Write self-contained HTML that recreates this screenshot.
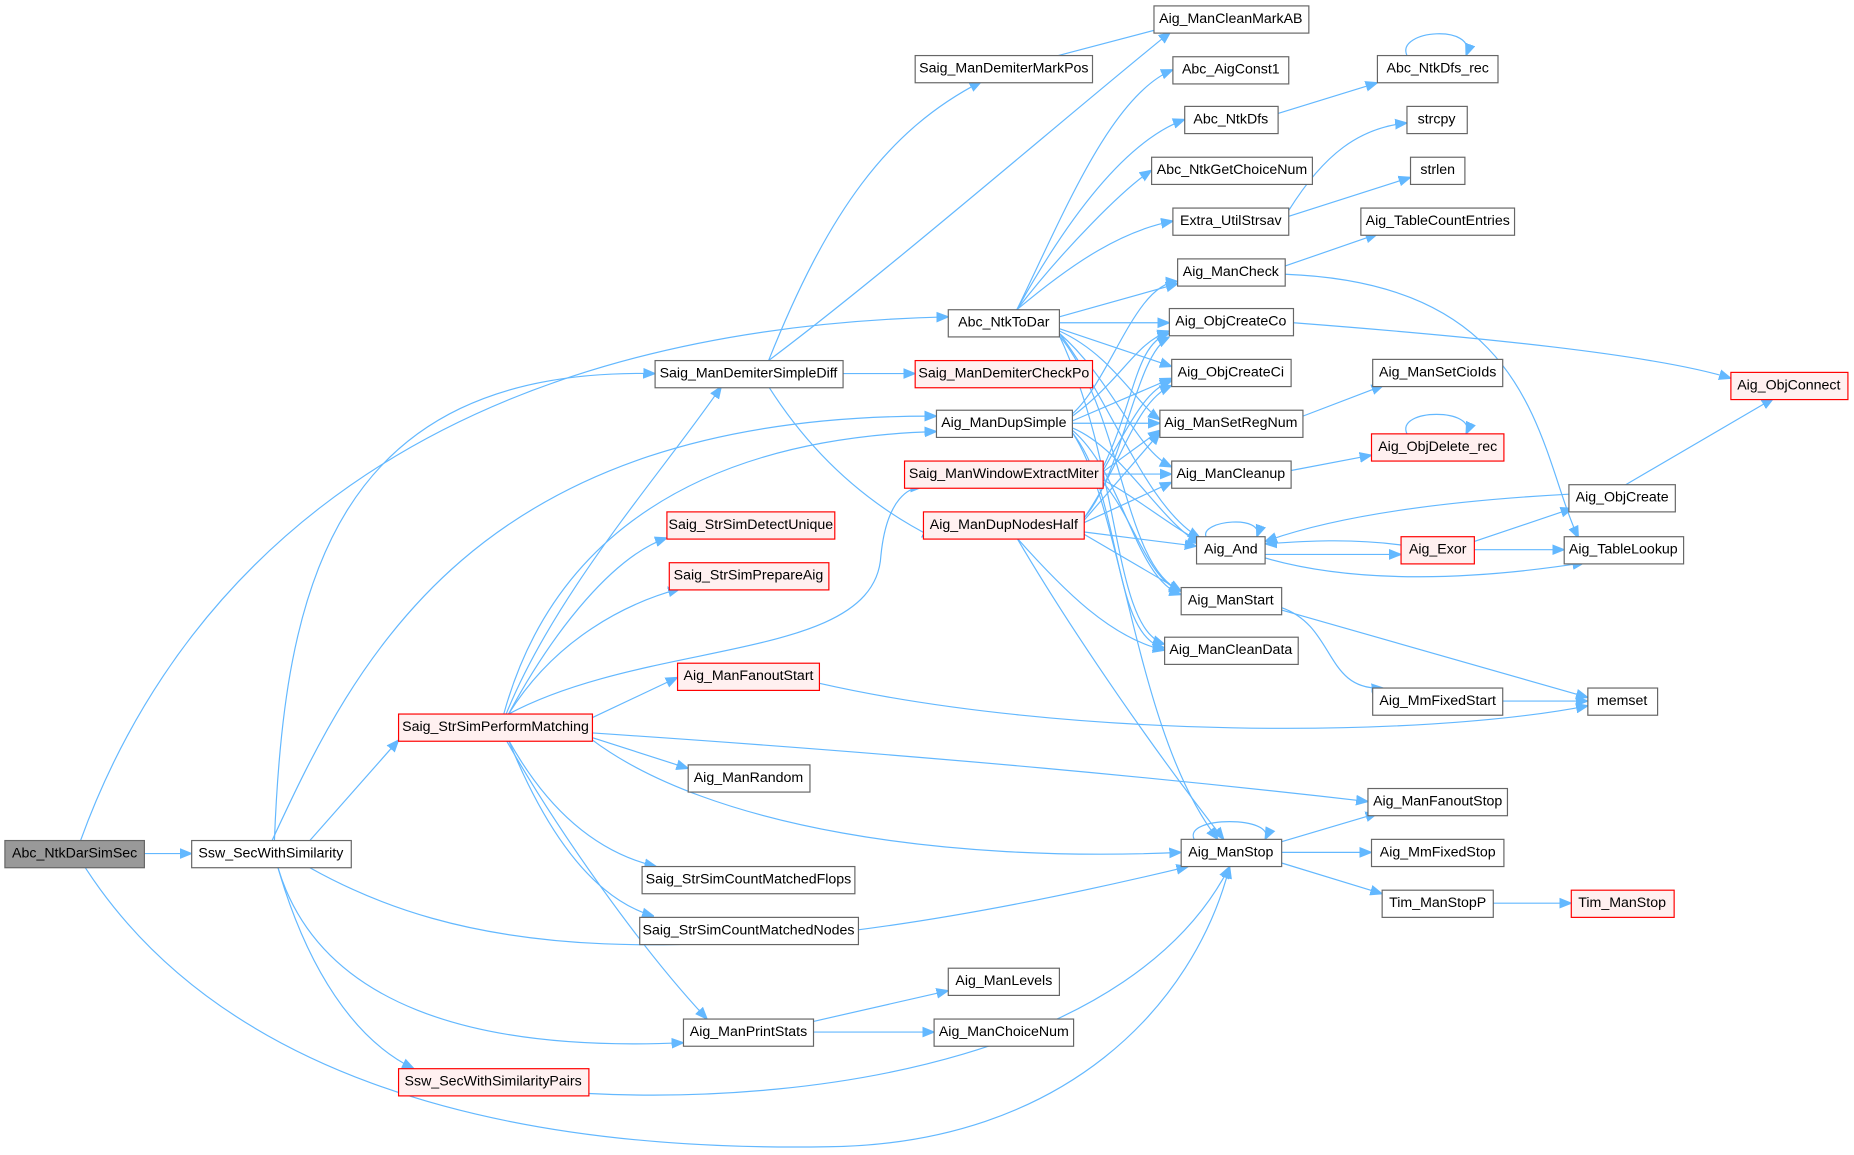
<!DOCTYPE html>
<html><head><meta charset="utf-8"><style>
html,body{margin:0;padding:0;background:#fff}
svg{display:block}
text{font-family:"Liberation Sans",Arial,sans-serif;font-size:12px;fill:#000;text-anchor:middle;dominant-baseline:central}
.n{fill:#fff;stroke:#666;stroke-width:1}
.r{fill:#fff0f0;stroke:#ff0000;stroke-width:1}
.g{fill:#999;stroke:#666;stroke-width:1}
path{fill:none;stroke:#63b8ff;stroke-width:1}
</style></head><body>
<svg width="1854" height="1155" viewBox="0 0 1568 977" xmlns="http://www.w3.org/2000/svg">
<defs><marker id="a" viewBox="0 0 10 10" refX="10" refY="5" markerWidth="10" markerHeight="10" markerUnits="userSpaceOnUse" orient="auto"><path d="M0,1 L10,5 L0,9 z" style="fill:#63b8ff;stroke:#63b8ff"/></marker></defs>
<g marker-end="url(#a)">
<path d="M122,722 L162,722"/>
<path d="M68,711 C130,540 300,280 802,268"/>
<path d="M72,734 C180,900 400,975 700,970 C900,968 1010,850 1040,733"/>
<path d="M232,711 C240,500 280,310 554,316"/>
<path d="M230,711 C300,560 400,350 792,352"/>
<path d="M262,711 L337,626"/>
<path d="M262,734 C380,800 560,840 1005,733"/>
<path d="M235,734 C270,850 400,890 578,882"/>
<path d="M235,734 C260,820 300,880 350,904"/>
<path d="M498,925 C700,935 960,890 1040,733"/>
<path d="M428,604 C470,500 560,400 610,327"/>
<path d="M426,604 C460,480 560,372 792,365"/>
<path d="M430,604 C550,540 740,560 745,470 C750,420 770,412 780,412"/>
<path d="M430,604 C470,530 520,470 564,455"/>
<path d="M430,604 C470,540 530,510 575,498"/>
<path d="M501,607 L573,573"/>
<path d="M501,624 L582,650"/>
<path d="M430,626 C460,680 500,720 555,733"/>
<path d="M430,626 C460,700 500,760 553,775"/>
<path d="M428,626 C470,700 540,800 598,862"/>
<path d="M501,626 C600,700 800,730 999,721"/>
<path d="M501,620 C800,640 1000,660 1157,678"/>
<path d="M650,305 C700,180 750,110 830,69"/>
<path d="M650,305 C750,230 900,100 990,27"/>
<path d="M713,316 L774,316"/>
<path d="M650,327 C690,390 740,430 790,455"/>
<path d="M895,47 L990,22"/>
<path d="M860,262 C900,180 940,80 992,59"/>
<path d="M860,262 C900,190 950,120 1002,101"/>
<path d="M860,262 C900,210 950,160 974,144"/>
<path d="M860,262 C910,220 950,195 992,187"/>
<path d="M896,268 L996,240"/>
<path d="M896,273 L989,273"/>
<path d="M896,278 L991,310"/>
<path d="M896,280 C940,300 960,340 981,355"/>
<path d="M896,282 C940,320 960,380 991,395"/>
<path d="M896,282 C940,340 970,430 1015,455"/>
<path d="M896,284 C950,350 950,480 999,500"/>
<path d="M896,284 C950,400 940,530 985,545"/>
<path d="M907,350 C940,320 960,240 996,238"/>
<path d="M907,352 C950,320 960,290 989,280"/>
<path d="M907,356 L991,320"/>
<path d="M907,358 L981,358"/>
<path d="M907,362 C950,380 980,440 1015,460"/>
<path d="M907,364 C950,400 960,490 999,503"/>
<path d="M907,366 C950,420 940,540 985,548"/>
<path d="M907,366 C950,430 960,620 1030,710"/>
<path d="M933,395 C960,340 960,290 989,282"/>
<path d="M933,398 C960,350 970,330 991,322"/>
<path d="M933,399 L981,364"/>
<path d="M933,401 L991,401"/>
<path d="M933,406 C960,420 990,445 1015,458"/>
<path d="M933,408 C960,440 970,490 999,500"/>
<path d="M917,438 C950,400 960,300 989,285"/>
<path d="M917,438 C950,390 960,340 991,326"/>
<path d="M917,440 L981,366"/>
<path d="M917,442 L991,408"/>
<path d="M917,450 L1012,462"/>
<path d="M917,452 L999,500"/>
<path d="M860,455 C900,500 940,540 985,550"/>
<path d="M860,455 C910,540 980,640 1035,710"/>
<path d="M1081,96 L1165,70"/>
<path d="M1190,47 C1180,25 1250,20 1240,47"/>
<path d="M1090,178 C1120,130 1150,108 1190,104"/>
<path d="M1090,183 L1193,150"/>
<path d="M1087,225 L1165,198"/>
<path d="M1087,232 C1300,240 1300,380 1335,455"/>
<path d="M1094,273 C1250,285 1400,300 1464,320"/>
<path d="M1102,352 L1170,326"/>
<path d="M1092,398 L1160,385"/>
<path d="M1190,367 C1180,345 1250,345 1240,367"/>
<path d="M1020,454 C1015,440 1070,435 1063,454"/>
<path d="M1070,469 L1185,469"/>
<path d="M1185,461 C1140,455 1100,458 1070,460"/>
<path d="M1070,472 C1150,495 1250,490 1340,476"/>
<path d="M1247,458 L1330,430"/>
<path d="M1247,465 L1323,465"/>
<path d="M1327,418 C1200,425 1120,440 1070,458"/>
<path d="M1375,410 L1500,337"/>
<path d="M1084,514 C1130,530 1120,585 1170,582"/>
<path d="M1084,516 L1343,590"/>
<path d="M1271,593 L1343,593"/>
<path d="M693,578 C900,625 1200,625 1343,597"/>
<path d="M1010,710 C1000,690 1080,690 1070,710"/>
<path d="M1084,712 L1165,688"/>
<path d="M1084,721 L1160,721"/>
<path d="M1084,730 L1169,756"/>
<path d="M1263,764 L1329,764"/>
<path d="M688,864 L802,838"/>
<path d="M688,873 L790,873"/>
</g>
<g>
<rect class="g" x="4" y="711" width="118" height="23"/><text x="63" y="722">Abc_NtkDarSimSec</text>
<rect class="n" x="162" y="711" width="135" height="23"/><text x="229" y="722">Ssw_SecWithSimilarity</text>
<rect class="r" x="337" y="604" width="164" height="23"/><text x="419" y="615">Saig_StrSimPerformMatching</text>
<rect class="r" x="337" y="904" width="161" height="23"/><text x="417" y="915">Ssw_SecWithSimilarityPairs</text>
<rect class="n" x="554" y="305" width="159" height="23"/><text x="633" y="316">Saig_ManDemiterSimpleDiff</text>
<rect class="n" x="774" y="47" width="150" height="23"/><text x="849" y="58">Saig_ManDemiterMarkPos</text>
<rect class="n" x="976" y="5" width="131" height="23"/><text x="1041" y="16">Aig_ManCleanMarkAB</text>
<rect class="n" x="802" y="262" width="94" height="23"/><text x="849" y="273">Abc_NtkToDar</text>
<rect class="n" x="992" y="48" width="98" height="23"/><text x="1041" y="59">Abc_AigConst1</text>
<rect class="n" x="1002" y="90" width="79" height="23"/><text x="1041" y="101">Abc_NtkDfs</text>
<rect class="n" x="974" y="133" width="136" height="23"/><text x="1042" y="144">Abc_NtkGetChoiceNum</text>
<rect class="n" x="992" y="176" width="98" height="23"/><text x="1041" y="187">Extra_UtilStrsav</text>
<rect class="n" x="996" y="219" width="91" height="23"/><text x="1041" y="230">Aig_ManCheck</text>
<rect class="n" x="989" y="261" width="105" height="23"/><text x="1041" y="272">Aig_ObjCreateCo</text>
<rect class="n" x="991" y="304" width="101" height="23"/><text x="1041" y="315">Aig_ObjCreateCi</text>
<rect class="n" x="981" y="347" width="121" height="23"/><text x="1041" y="358">Aig_ManSetRegNum</text>
<rect class="n" x="991" y="390" width="101" height="23"/><text x="1041" y="401">Aig_ManCleanup</text>
<rect class="n" x="1012" y="454" width="58" height="23"/><text x="1041" y="465">Aig_And</text>
<rect class="n" x="999" y="497" width="85" height="23"/><text x="1041" y="508">Aig_ManStart</text>
<rect class="n" x="985" y="539" width="113" height="23"/><text x="1041" y="550">Aig_ManCleanData</text>
<rect class="n" x="999" y="710" width="85" height="23"/><text x="1041" y="721">Aig_ManStop</text>
<rect class="r" x="774" y="305" width="150" height="23"/><text x="849" y="316">Saig_ManDemiterCheckPo</text>
<rect class="n" x="792" y="347" width="115" height="23"/><text x="849" y="358">Aig_ManDupSimple</text>
<rect class="r" x="765" y="390" width="168" height="23"/><text x="849" y="401">Saig_ManWindowExtractMiter</text>
<rect class="r" x="781" y="433" width="136" height="23"/><text x="849" y="444">Aig_ManDupNodesHalf</text>
<rect class="r" x="564" y="433" width="142" height="23"/><text x="635" y="444">Saig_StrSimDetectUnique</text>
<rect class="r" x="566" y="476" width="135" height="23"/><text x="633" y="487">Saig_StrSimPrepareAig</text>
<rect class="r" x="573" y="561" width="120" height="23"/><text x="633" y="572">Aig_ManFanoutStart</text>
<rect class="n" x="582" y="647" width="103" height="23"/><text x="633" y="658">Aig_ManRandom</text>
<rect class="n" x="543" y="733" width="180" height="23"/><text x="633" y="744">Saig_StrSimCountMatchedFlops</text>
<rect class="n" x="541" y="776" width="185" height="23"/><text x="633" y="787">Saig_StrSimCountMatchedNodes</text>
<rect class="n" x="578" y="862" width="110" height="23"/><text x="633" y="873">Aig_ManPrintStats</text>
<rect class="n" x="802" y="819" width="94" height="23"/><text x="849" y="830">Aig_ManLevels</text>
<rect class="n" x="790" y="862" width="118" height="23"/><text x="849" y="873">Aig_ManChoiceNum</text>
<rect class="n" x="1165" y="47" width="102" height="23"/><text x="1216" y="58">Abc_NtkDfs_rec</text>
<rect class="n" x="1190" y="90" width="51" height="23"/><text x="1215" y="101">strcpy</text>
<rect class="n" x="1193" y="133" width="46" height="23"/><text x="1216" y="144">strlen</text>
<rect class="n" x="1151" y="176" width="130" height="23"/><text x="1216" y="187">Aig_TableCountEntries</text>
<rect class="n" x="1161" y="304" width="110" height="23"/><text x="1216" y="315">Aig_ManSetCioIds</text>
<rect class="r" x="1160" y="367" width="112" height="23"/><text x="1216" y="378">Aig_ObjDelete_rec</text>
<rect class="r" x="1185" y="454" width="62" height="23"/><text x="1216" y="465">Aig_Exor</text>
<rect class="n" x="1161" y="582" width="110" height="23"/><text x="1216" y="593">Aig_MmFixedStart</text>
<rect class="n" x="1343" y="582" width="59" height="23"/><text x="1372" y="593">memset</text>
<rect class="n" x="1157" y="667" width="118" height="23"/><text x="1216" y="678">Aig_ManFanoutStop</text>
<rect class="n" x="1160" y="710" width="112" height="23"/><text x="1216" y="721">Aig_MmFixedStop</text>
<rect class="n" x="1169" y="753" width="94" height="23"/><text x="1216" y="764">Tim_ManStopP</text>
<rect class="r" x="1329" y="753" width="87" height="23"/><text x="1372" y="764">Tim_ManStop</text>
<rect class="r" x="1464" y="315" width="99" height="23"/><text x="1513" y="326">Aig_ObjConnect</text>
<rect class="n" x="1327" y="410" width="90" height="23"/><text x="1372" y="421">Aig_ObjCreate</text>
<rect class="n" x="1323" y="454" width="101" height="23"/><text x="1373" y="465">Aig_TableLookup</text>
</g>
</svg>
</body></html>
